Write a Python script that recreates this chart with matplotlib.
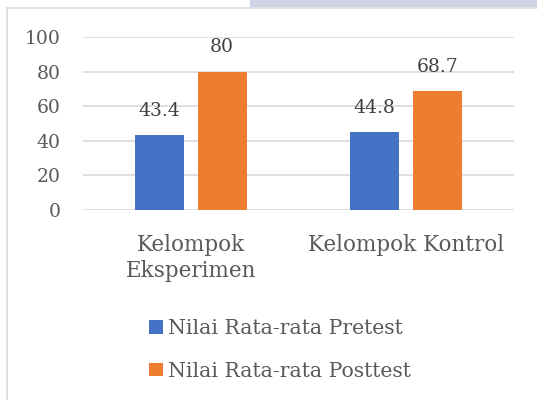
import numpy as np
import matplotlib
matplotlib.use('Agg')
import matplotlib.pyplot as plt
from matplotlib.patches import Rectangle

plt.rcParams['font.family'] = ['DejaVu Serif']

# data
groups = ['Kelompok\nEksperimen', 'Kelompok Kontrol']
series = ['Nilai Rata-rata Pretest', 'Nilai Rata-rata Posttest']
pretest = [43.4, 44.8]
posttest = [80, 68.7]
colors = ['#4472C4', '#ED7D31']
text_col = '#595959'
fs = 13.5

fig = plt.figure(figsize=(5.37, 4.0), dpi=100)

# frame of the chart area and the strip of the cut-off caption above it
fig.patches.append(Rectangle((250 / 537, 1 - 7 / 400), 287 / 537, 7 / 400,
                             transform=fig.transFigure, color='#cfd3e6', lw=0))
fig.patches.append(Rectangle((7 / 537, -0.1), 1.0, 1 - 7.5 / 400 + 0.1,
                             transform=fig.transFigure, fill=False,
                             edgecolor='#d9d9d9', lw=1.2))

ax = fig.add_axes([83 / 537, 1 - 210 / 400, 431 / 537, 173 / 400])
x = np.arange(len(groups))
w = 0.227
off = 0.146
b1 = ax.bar(x - off, pretest, w, color=colors[0], label=series[0], zorder=3)
b2 = ax.bar(x + off, posttest, w, color=colors[1], label=series[1], zorder=3)

for bars, vals in ((b1, pretest), (b2, posttest)):
    for r, v in zip(bars, vals):
        ax.annotate(f'{v:g}', (r.get_x() + r.get_width() / 2, v),
                    xytext=(0, 11), textcoords='offset points',
                    ha='center', va='bottom', fontsize=fs, color='#404040')

ax.set_xlim(-0.5, 1.5)
ax.set_ylim(0, 100)
ax.set_yticks(np.arange(0, 101, 20))
ax.set_xticks(x)
ax.set_xticklabels(groups, fontsize=15.5, color=text_col, linespacing=1.25)
ax.tick_params(axis='y', labelsize=fs, labelcolor=text_col, length=0, pad=16)
ax.tick_params(axis='x', length=0, pad=17)
ax.grid(axis='y', color='#d9d9d9', lw=1.2, zorder=0)
for s in ax.spines.values():
    s.set_visible(False)

fig.legend(handles=[b1, b2], labels=series, loc='upper left',
           bbox_to_anchor=(131 / 537, 1 - 301 / 400), frameon=False,
           fontsize=14.7, labelcolor=text_col, handlelength=0.65,
           handleheight=0.65, handletextpad=0.25, labelspacing=1.15)

fig.savefig('out.png', dpi=100)
